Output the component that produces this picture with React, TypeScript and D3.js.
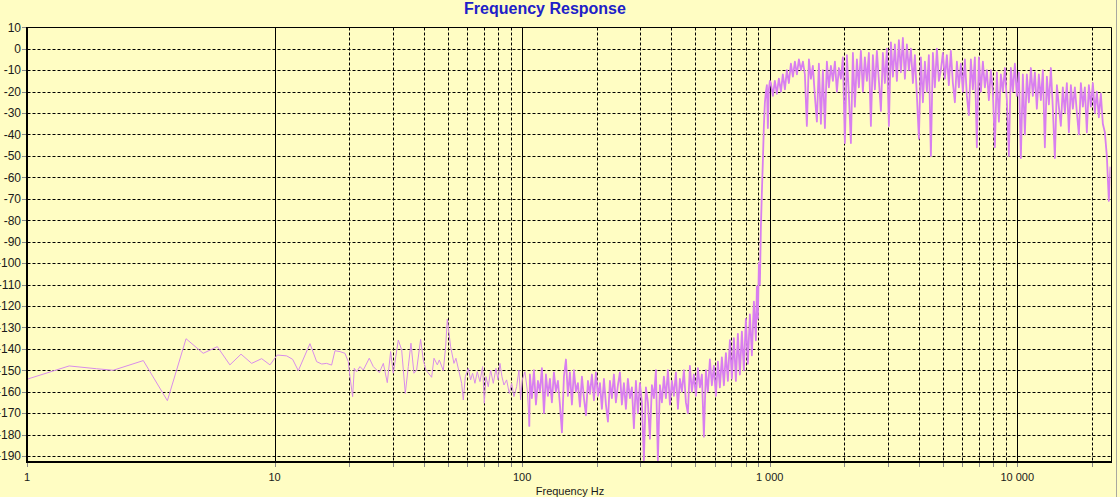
import React from 'react';
import * as d3 from 'd3';

// ---------- data (Hz, dB) ----------
const lowBand: [number, number][] = [
  [1, -154.2], [1.48, -148], [1.91, -149.3], [2.23, -150], [2.95, -145.5], [3.69, -164.2], [4.39, -135.3],
  [5.15, -142.1], [5.87, -139], [6.6, -147.5], [7.32, -142.5], [8.08, -146.8], [8.87, -144.6], [9.58, -147.5],
  [10.25, -142.9], [11.19, -143.3], [11.83, -144.9], [12.47, -150.2], [13.9, -137.6], [14.79, -146.0],
  [15.5, -147.1], [16.23, -146.8], [17.0, -147.6], [17.54, -140.9], [18.37, -141.3], [19.24, -142.1],
  [19.85, -146], [20.16, -153], [20.67, -162.3], [20.99, -149.1], [21.45, -150.7], [22.13, -148.3],
  [22.83, -149.9], [24.13, -144.4], [25.05, -148.3], [26.49, -151.1], [27.5, -146.8], [28.53, -155.8],
  [29.43, -141.3], [30.17, -151.4], [31.61, -135.9], [32.61, -140.5], [33.73, -160.8], [34.69, -148.3],
  [35.56, -137.4], [36.56, -151.4], [37.48, -149.9], [38.9, -135.6], [39.88, -145.2], [40.88, -149.9],
  [43.1, -153.3], [44.05, -144.4], [45.44, -147.5], [46.29, -145.2], [48.04, -150.2], [49.09, -139],
  [49.86, -126.2], [50.47, -131.2], [51.42, -139], [53.04, -146.8], [54.03, -144.4], [55.4, -149.9],
  [56.97, -156.1], [57.86, -163.9], [58.94, -153], [60.6, -149.1], [61.93, -154.5], [63.08, -151.4],
  [64.47, -156.1], [65.89, -150.7], [67.55, -155.3], [69.25, -148.3], [70.33, -165.4], [71.43, -153],
  [72.99, -157.7], [74.6, -149.9], [76.47, -156.1], [78.39, -149.1], [79.87, -154.5], [81.37, -146.8],
  [82.89, -153], [84.45, -156.9], [86.57, -154.5], [88.72, -160.8], [90.69, -156.1], [92.68, -162.3],
  [95.0, -157.7], [97.08, -149.9], [98.6, -163.9], [100.1, -154.5], [102.6, -150.7], [104.9, -159.2],
  [106.9, -176.3],
];

const midBand: [number, number][] = [
  [107.5, -152], [109.5, -163], [111.6, -150], [113.7, -166], [115.8, -155], [118.0, -160], [120.2, -149],
  [122.5, -170], [124.8, -152], [127.1, -162], [129.5, -154], [131.9, -165], [134.4, -151], [136.9, -160],
  [139.5, -155], [142.1, -166], [144.8, -179], [147.5, -153], [150.3, -145], [153.1, -162], [156.0, -151],
  [158.9, -166], [161.9, -150], [164.9, -160], [168.0, -156], [171.2, -167], [174.4, -153], [177.7, -163],
  [181.0, -171], [184.4, -155], [187.9, -161], [191.4, -152], [195.0, -164], [198.6, -151], [202.4, -162],
  [206.2, -156], [210.0, -168], [214.0, -154], [218.0, -166], [222.1, -174], [226.2, -155], [230.5, -163],
  [234.8, -152], [239.2, -165], [243.7, -157], [248.3, -151], [252.9, -166], [257.7, -156], [262.5, -168],
  [267.4, -154], [272.5, -163], [277.6, -158], [282.8, -177], [288.1, -155], [293.5, -170], [299.0, -156],
  [304.6, -165], [310.3, -192], [316.2, -158], [322.1, -165], [328.2, -182], [334.3, -157], [340.6, -163],
  [347.0, -150], [353.5, -192], [360.2, -157], [366.9, -165], [373.8, -153], [380.8, -163], [388.0, -150],
  [395.3, -166], [402.7, -155], [410.2, -162], [417.9, -151], [425.8, -168], [433.8, -154], [441.9, -160],
  [450.2, -150], [458.6, -165], [467.2, -170], [476.0, -148], [484.9, -160], [494.0, -152], [503.3, -162],
  [512.9, -149], [522.4, -158], [532.2, -152], [542.2, -181], [552.4, -150], [562.7, -160], [573.3, -145],
  [584.0, -157], [595.0, -148], [606.1, -162], [617.5, -146], [629.1, -158], [640.9, -144], [653.1, -157],
  [665.3, -142], [677.8, -155], [690.5, -136], [703.5, -154], [716.6, -135], [730.1, -155], [743.8, -133],
  [757.7, -152], [772.0, -132], [786.4, -150], [801.2, -126], [816.2, -147], [831.8, -124], [847.2, -143],
  [863.2, -118], [879.3, -136],
];

const riseBand: [number, number][] = [
  [887.5, -111], [895.9, -126], [904.3, -100], [912.7, -110], [921.3, -83], [929.9, -67], [938.6, -52],
  [947.3, -36], [956.3, -25], [965.2, -20], [974.2, -17], [983.1, -37], [992.5, -19], [1001.6, -15],
];

const highBand: [number, number][] = [
  [1011, -16], [1030, -22], [1049, -15], [1069, -21], [1089, -14], [1110, -20], [1130, -12], [1152, -19],
  [1173, -10], [1195, -16], [1218, -7], [1241, -13], [1264, -6], [1288, -12], [1312, -5], [1337, -10],
  [1362, -6], [1387, -12], [1413, -36], [1440, -5], [1467, -14], [1494, -8], [1522, -22], [1551, -34],
  [1580, -7], [1610, -35], [1640, -10], [1671, -37], [1702, -6], [1734, -18], [1767, -8], [1800, -15],
  [1834, -6], [1868, -20], [1903, -9], [1939, -14], [1975, -4], [2012, -44], [2050, -3], [2089, -22],
  [2128, -44], [2168, -2], [2208, -27], [2250, -5], [2292, -18], [2335, -1], [2379, -20], [2423, -4],
  [2469, -15], [2515, -2], [2563, -36], [2611, -3], [2660, -19], [2710, -1], [2761, -15], [2813, -29],
  [2865, -2], [2919, -16], [2974, 0], [3030, -36], [3087, 3], [3145, -13], [3204, 2], [3264, -15],
  [3325, 4], [3388, -11], [3451, 5], [3516, -14], [3582, 2], [3649, -10], [3718, 0], [3788, -16],
  [3859, -3], [3931, -22], [4005, -42], [4080, -4], [4157, -25], [4235, -6], [4314, -20], [4395, -3],
  [4478, -50], [4562, -2], [4647, -18], [4735, 0], [4823, -15],
];

const topBand: [number, number][] = [
  [4914, -10], [5006, -2], [5100, -14], [5195, -3], [5292, -17], [5391, -1], [5494, -16], [5598, -25],
  [5703, -6], [5809, -18], [5918, -7], [6030, -20], [6143, -5], [6257, -22], [6375, -31], [6495, -5],
  [6617, -19], [6741, -4], [6867, -46], [6997, -4], [7129, -20], [7263, -6], [7398, -18], [7537, -10],
  [7679, -24], [7824, -10], [7969, -20], [8119, -46], [8272, -11], [8428, -34], [8585, -12], [8747, -20],
  [8911, -9], [9078, -24], [9247, -50], [9421, -9], [9598, -20], [9779, -7], [9963, -22], [10148, -11],
  [10339, -51], [10534, -12], [10732, -40], [10932, -12], [11138, -25], [11348, -9], [11561, -22],
  [11779, -11], [11998, -28], [12224, -12], [12454, -24], [12689, -10], [12925, -46], [13169, -13],
  [13417, -26], [13669, -9], [13924, -28], [14187, -51], [14454, -17], [14723, -27], [14997, -36],
  [15279, -18], [15567, -30], [15860, -16], [16158, -39], [16462, -17], [16772, -28], [17088, -18],
  [17410, -30], [17734, -40], [18067, -16], [18408, -27], [18750, -18], [19099, -39], [19458, -17],
  [19825, -27], [20198, -16], [20574, -30], [20961, -20], [21355, -32], [21757, -21], [22162, -35],
  [22579, -39], [23003, -50], [23436, -71], [23800, -55],
];

const yTickValues = [10, 0, -10, -20, -30, -40, -50, -60, -70, -80, -90, -100, -110, -120, -130, -140, -150, -160, -170, -180, -190];
const xMajorValues = [1, 10, 100, 1000, 10000];
const xMajorLabels = ['1', '10', '100', '1 000', '10 000'];
const xMinorValues = [20, 30, 40, 50, 60, 70, 80, 90, 200, 300, 400, 500, 600, 700, 800, 900,
  2000, 3000, 4000, 5000, 6000, 7000, 8000, 9000, 20000];

const title = 'Frequency Response';
const xTitle = 'Frequency Hz';

const W = 1120;
const H = 497;
const L = 27;
const R = 1110.5;
const T = 27.3;
const B = 462.4;

const FONT = '"Liberation Sans", Arial, Helvetica, sans-serif';

export default function App() {
  const x = d3.scaleLog().domain([1, 23800]).range([L, R]);
  const y = d3.scaleLinear().domain([-193, 10]).range([B, T]);
  const sparse = lowBand;
  const dense = [lowBand[lowBand.length - 1], ...midBand, ...riseBand, ...highBand, ...topBand];
  const line = d3.line<[number, number]>().x(d => x(d[0])).y(d => y(d[1]));
  const px = (v: number) => Math.round(v) + 0.5;
  const xL = px(L), xR = px(R), yT = px(T), yB = Math.round(B);

  return (
    <svg width={W} height={H} style={{ position: 'absolute', left: 0, top: 0, display: 'block' }}>
      <rect x={0} y={0} width={W} height={H} fill="#FFFDC3" />
      <line x1={1116.5} x2={1116.5} y1={0} y2={H} stroke="#a8a8a0" strokeWidth={1} />
      <text x={545} y={14} textAnchor="middle" fontFamily={FONT} fontSize={16} fontWeight="bold" fill="#2020C8">{title}</text>

      {/* horizontal grid */}
      {yTickValues.filter(v => v !== 10).map(v => (
        <line key={'h' + v} x1={xL} x2={xR} y1={px(y(v))} y2={px(y(v))} stroke="#000" strokeWidth={1} strokeDasharray="3,2" />
      ))}
      {/* minor vertical grid */}
      {xMinorValues.map(v => (
        <line key={'vm' + v} x1={px(x(v))} x2={px(x(v))} y1={yT} y2={yB} stroke="#000" strokeWidth={1} strokeDasharray="3,2" />
      ))}
      {/* major vertical grid */}
      {xMajorValues.filter(v => v !== 1).map(v => (
        <line key={'vM' + v} x1={px(x(v))} x2={px(x(v))} y1={yT} y2={yB} stroke="#000" strokeWidth={1} />
      ))}

      {/* ticks */}
      {yTickValues.map(v => (
        <line key={'yt' + v} x1={22} x2={L} y1={px(y(v))} y2={px(y(v))} stroke="#8a8a8a" strokeWidth={1} />
      ))}
      {[...xMajorValues, ...xMinorValues].map(v => (
        <line key={'xt' + v} x1={px(x(v))} x2={px(x(v))} y1={yB} y2={yB + 5} stroke="#8a8a8a" strokeWidth={1} />
      ))}

      {/* data */}
      <clipPath id="plotClip">
        <rect x={L} y={T} width={R - L} height={B - T} />
      </clipPath>
      <g clipPath="url(#plotClip)" fill="none" strokeLinejoin="round">
        <path d={line(sparse) || ''} stroke="#D88CEA" strokeWidth={1} />
        <path d={line(dense) || ''} stroke="#D87EF0" strokeWidth={1.8} />
      </g>

      {/* frame */}
      <line x1={xL} x2={xR} y1={yT} y2={yT} stroke="#000" strokeWidth={1} />
      <line x1={xR} x2={xR} y1={yT} y2={yB} stroke="#000" strokeWidth={1} />
      <line x1={L} x2={L} y1={yT - 0.5} y2={yB + 1} stroke="#000" strokeWidth={2} />
      <line x1={L - 1} x2={xR + 0.5} y1={yB} y2={yB} stroke="#000" strokeWidth={2} />

      {/* y labels */}
      {yTickValues.map(v => (
        <text key={'yl' + v} x={21} y={y(v)} dy="0.36em" textAnchor="end" fontFamily={FONT} fontSize={12} fill="#1a1a1a">{String(v)}</text>
      ))}
      {/* x labels */}
      {xMajorValues.map((v, i) => (
        <text key={'xl' + v} x={x(v)} y={481} textAnchor="middle" fontFamily={FONT} fontSize={11} fill="#1a1a1a">{xMajorLabels[i]}</text>
      ))}
      <text x={570} y={495} textAnchor="middle" fontFamily={FONT} fontSize={11} fill="#1a1a1a">{xTitle}</text>
    </svg>
  );
}
